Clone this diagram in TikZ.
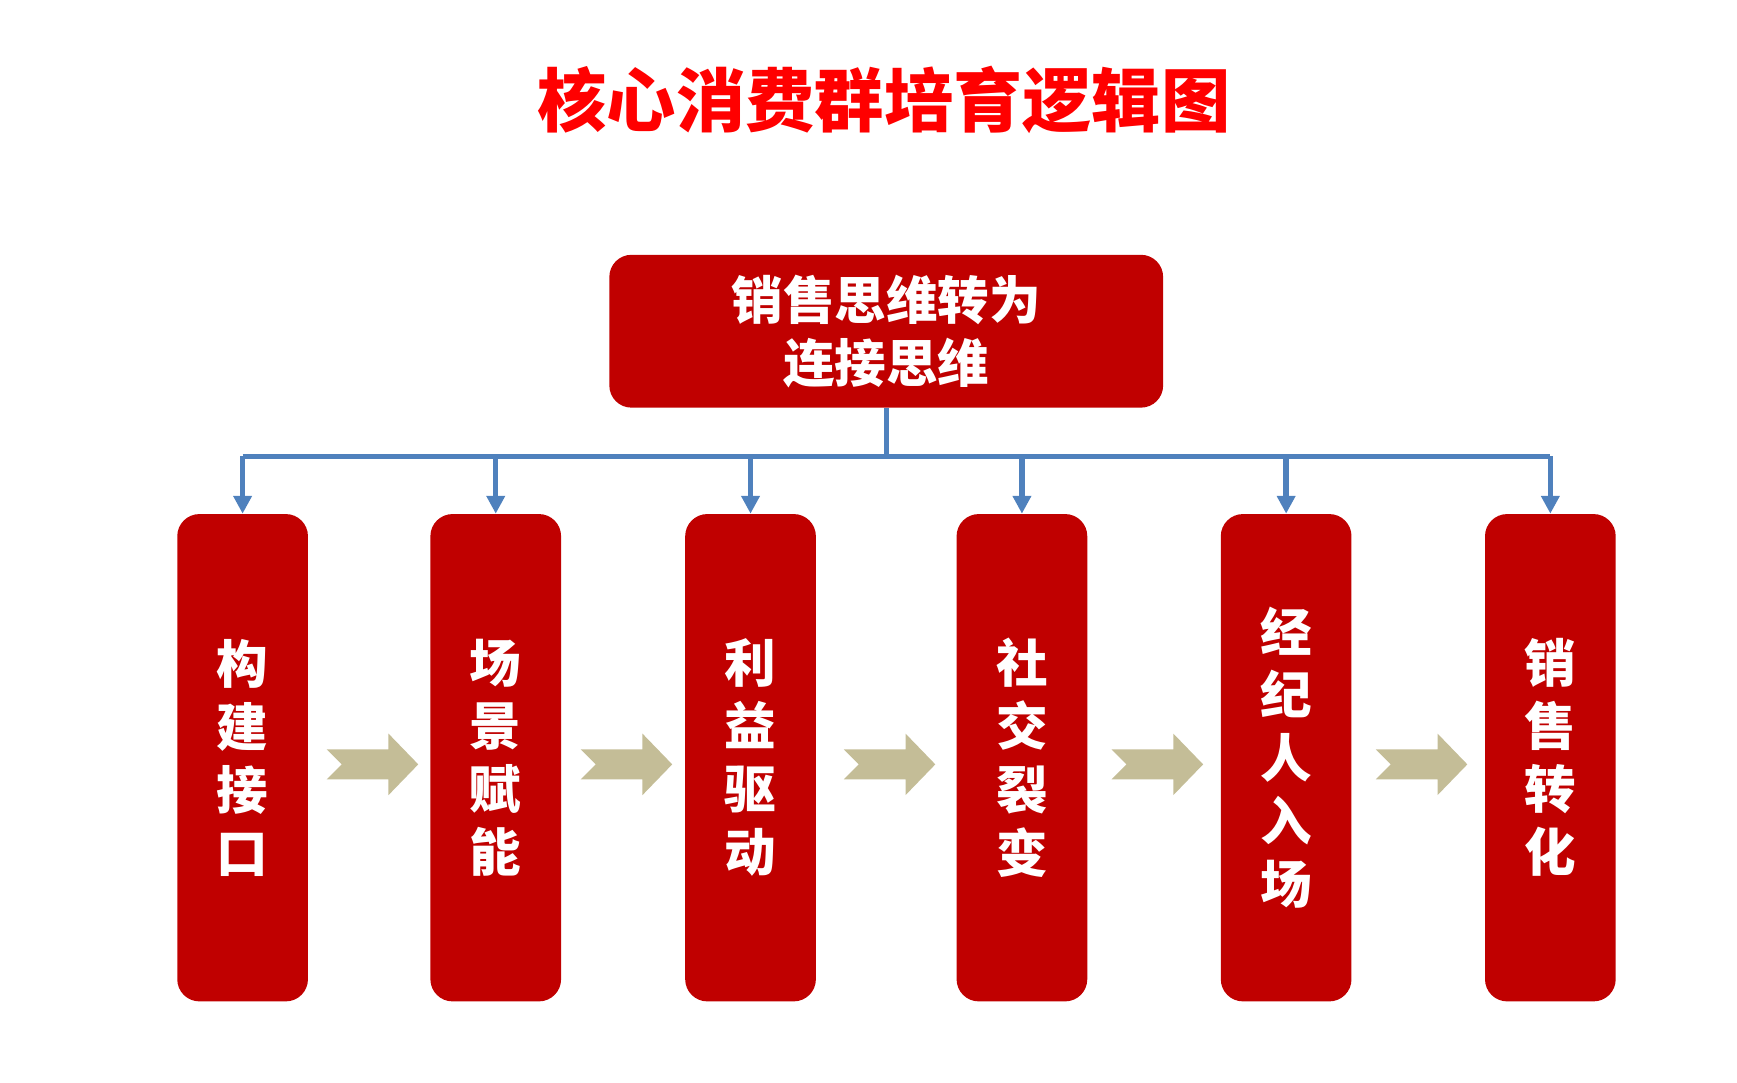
\documentclass[tikz,border=0pt]{standalone}
\usepackage{fontspec}
\usepackage{tikz}
\usetikzlibrary{arrows.meta,calc}

\newfontfamily\cjk{Noto Sans CJK SC}
\definecolor{boxred}{HTML}{C00000}
\definecolor{linkblue}{HTML}{4F81BD}
\definecolor{khaki}{HTML}{C4BD97}

\tikzset{
    redbox/.style={fill=boxred, rounded corners=0.4cm, text=white, inner sep=0pt,
        align=center, font=\cjk\bfseries\fontsize{26.5}{32.4}\selectfont},
    stagebox/.style={redbox, minimum width=2.36cm, minimum height=8.8cm},
    link/.style={draw=linkblue, line width=2.8pt},
    feed/.style={link, -{Triangle[width=0.32cm,length=0.32cm]}},
    chev/.style={fill=khaki}
}

\begin{document}
\begin{tikzpicture}[x=0.02cm,y=-0.02cm]
    \useasboundingbox (0,0) rectangle (1568,977.5);

    % title
    \node[text=red, font=\cjk\bfseries\fontsize{35.6}{40}\selectfont] (title) at (798,90) {核心消费群培育逻辑图};

    % top box
    \node[redbox, minimum width=10cm, minimum height=2.76cm] (top) at (800,299) {销售思维转为\\连接思维};

    % stages
    \node[stagebox] (b1) at (219,684) {构\\建\\接\\口};
    \node[stagebox] (b2) at (447.5,684) {场\\景\\赋\\能};
    \node[stagebox] (b3) at (677.5,684) {利\\益\\驱\\动};
    \node[stagebox] (b4) at (922.5,684) {社\\交\\裂\\变};
    \node[stagebox] (b5) at (1161,684) {经\\纪\\人\\入\\场};
    \node[stagebox] (b6) at (1399.5,684) {销\\售\\转\\化};

    % connectors
    \coordinate (bus) at (800,412);
    \draw[link] (top.south) -- (bus);
    \draw[link] (bus -| b1.north) -- (bus -| b6.north);
    \foreach \i in {1,...,6}
        \draw[feed] (bus -| b\i.north) -- (b\i.north);

    % arrows between stages
    \foreach \i/\j in {1/2,2/3,3/4,4/5,5/6}{
        \begin{scope}[shift={($(b\i.east)!0.5!(b\j.west)+(-38.3,6)$)}]
            \fill[chev] (0,-13.5) -- (55.7,-13.5) -- (55.7,-27.8) -- (82.6,0)
                -- (55.7,27.8) -- (55.7,13.5) -- (0,13.5) -- (13.5,0) -- cycle;
        \end{scope}
    }

\end{tikzpicture}
\end{document}
